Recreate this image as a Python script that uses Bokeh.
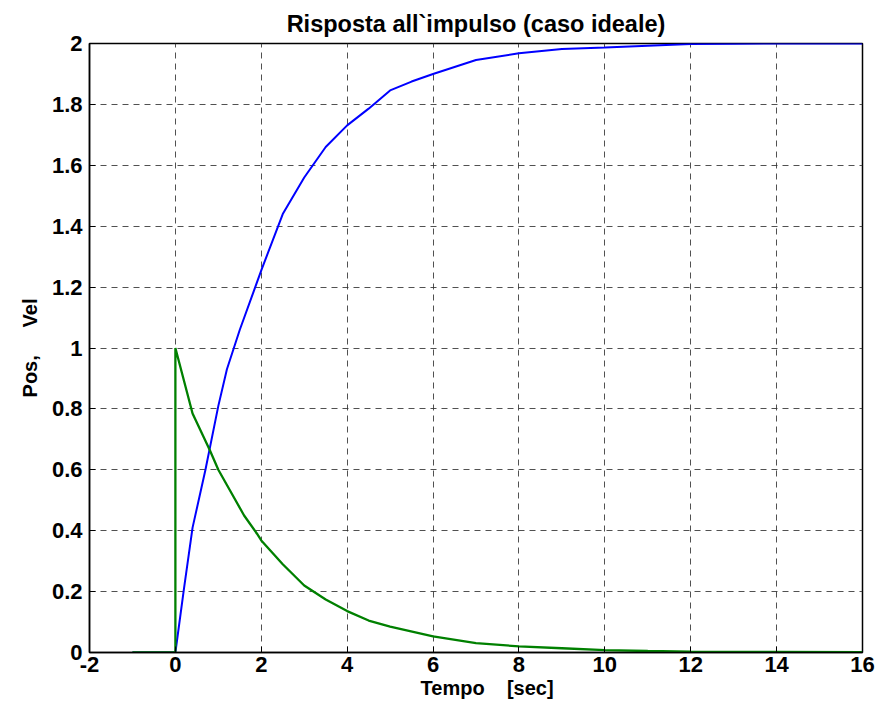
from bokeh.plotting import figure
from bokeh.models import FixedTicker, Range1d
from bokeh.embed import file_html
from bokeh.resources import INLINE

# Time samples and read-off values
t_pos = [-1, 0, 0.2, 0.4, 0.7, 1.0, 1.2, 1.5, 2, 2.5, 3, 3.5, 4, 4.5, 5, 5.5, 6, 7, 8, 9, 10, 11, 12, 13, 14, 16]
pos = [0, 0, 0.21, 0.41, 0.60, 0.81, 0.93, 1.06, 1.255, 1.44, 1.56, 1.66, 1.731, 1.786, 1.846, 1.875, 1.90,
       1.946, 1.968, 1.982, 1.987, 1.993, 1.998, 1.999, 2.0, 2.0]
t_vel = [-1, 0, 0, 0.4, 0.8, 1.0, 1.2, 1.6, 1.9, 2, 2.5, 3, 3.5, 4, 4.5, 5, 6, 7, 8, 9, 10, 11, 12, 14, 16]
vel = [0, 0, 1, 0.785, 0.665, 0.60, 0.55, 0.45, 0.39, 0.368, 0.29, 0.22, 0.174, 0.136, 0.105, 0.085, 0.053,
       0.031, 0.02, 0.014, 0.008, 0.005, 0.003, 0.002, 0.001]

x_ticks = [-2, 0, 2, 4, 6, 8, 10, 12, 14, 16]
x_labels = ["-2", "0", "2", "4", "6", "8", "10", "12", "14", "16"]
y_ticks = [0, 0.2, 0.4, 0.6, 0.8, 1, 1.2, 1.4, 1.6, 1.8, 2]
y_labels = ["0", "0.2", "0.4", "0.6", "0.8", "1", "1.2", "1.4", "1.6", "1.8", "2"]

FONT = "Liberation Sans"
NB = "\u00a0"

p = figure(width=877, height=701, output_backend="svg", toolbar_location=None,
           x_range=Range1d(-2, 16), y_range=Range1d(0, 2),
           title="Risposta all`impulso (caso ideale)",
           min_border_left=89, min_border_right=15, min_border_top=43, min_border_bottom=46)

p.title.align = "center"
p.title.text_font = FONT
p.title.text_font_size = "23.5px"
p.title.text_font_style = "bold"
p.title.text_color = "black"
p.title.standoff = 14

p.outline_line_color = "black"
p.outline_line_width = 1.5
p.outline_line_alpha = 1

for ax in (p.xaxis, p.yaxis):
    ax.major_label_text_font = FONT
    ax.major_label_text_font_size = "22px"
    ax.major_label_text_font_style = "bold"
    ax.major_label_text_color = "black"
    ax.axis_label_text_font = FONT
    ax.axis_label_text_font_size = "20px"
    ax.axis_label_text_font_style = "bold"
    ax.axis_label_text_color = "black"
    ax.axis_line_color = "black"
    ax.axis_line_width = 1.5
    ax.major_tick_in = 6
    ax.major_tick_out = 0
    ax.minor_tick_line_color = None
    ax.major_tick_line_color = "black"

p.xaxis.ticker = FixedTicker(ticks=x_ticks)
p.yaxis.ticker = FixedTicker(ticks=y_ticks)
p.xaxis.major_label_overrides = {v: l for v, l in zip(x_ticks, x_labels)}
p.yaxis.major_label_overrides = {v: l for v, l in zip(y_ticks, y_labels)}
p.xaxis.axis_label = NB * 4 + "Tempo" + NB * 4 + "[sec]"
p.yaxis.axis_label = "Pos," + NB * 5 + "Vel"
p.xaxis.axis_label_standoff = 2
p.yaxis.axis_label_standoff = 8
p.xaxis.major_label_standoff = 4
p.yaxis.major_label_standoff = 7

for g in (p.xgrid, p.ygrid):
    g.grid_line_color = "#333333"
    g.grid_line_alpha = 0.85
    g.grid_line_dash = "6 5"
    g.grid_line_width = 1

p.line(t_pos, pos, line_color="#0000FF", line_width=2)
p.line(t_vel, vel, line_color="#008000", line_width=2.3)

open("out.html", "w").write(file_html(p, INLINE))
